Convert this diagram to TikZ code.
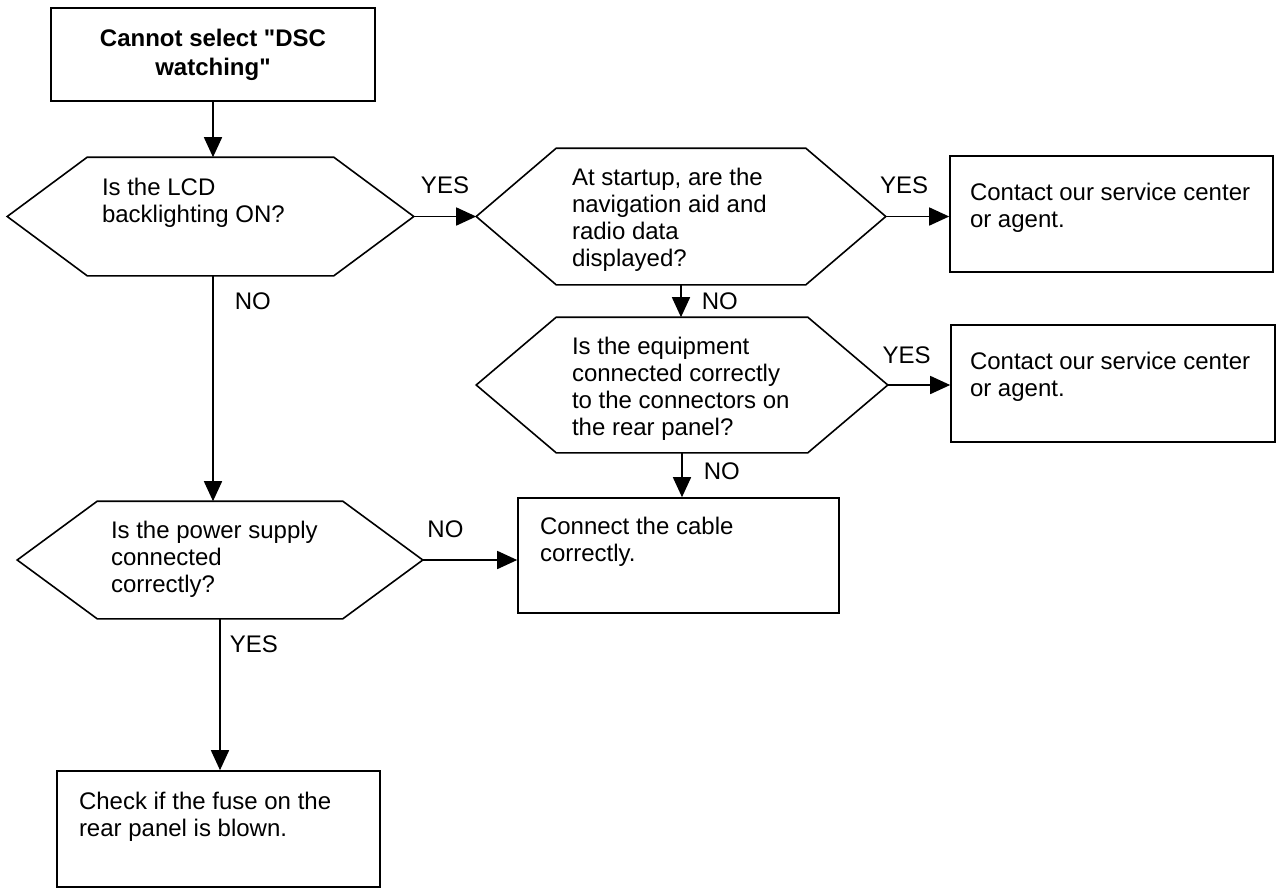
\documentclass[tikz,border=0pt]{standalone}
\usepackage{fontspec}
\setmainfont{Liberation Sans}
\usetikzlibrary{arrows.meta,positioning,calc}

\begin{document}
\begin{tikzpicture}[->, >={Triangle[length=10pt,width=9pt]}, thick, x=0.5pt, y=-0.5pt,
  font=\fontsize{12}{13.5}\selectfont]
\tikzstyle{action}=[draw=black, rectangle, inner sep=0pt]
\tikzstyle{query}=[rectangle, inner sep=0pt]
\tikzstyle{txt}=[anchor=north west, align=left, inner sep=0pt]
\tikzstyle{answer}=[inner sep=0pt]
\useasboundingbox (0,0) rectangle (1284,889);

\node[action, minimum width=162pt, minimum height=46.5pt, align=center,
  font=\bfseries\fontsize{12}{14.5}\selectfont] (start) at (213,54.5) {Cannot select \textquotedbl DSC\\watching\textquotedbl};
\node[query, minimum width=202.5pt, minimum height=58.5pt,
  label={[txt, xshift=47pt, yshift=-10pt]north west:{Is the LCD\\backlighting ON?}}] (lcd) at (210.5,216.5) {};
\node[query, minimum width=204pt, minimum height=67.5pt,
  label={[txt, xshift=47.5pt, yshift=-9.5pt]north west:{At startup, are the\\navigation aid and\\radio data\\displayed?}}] (nav) at (681,216.5) {};
\node[query, minimum width=205pt, minimum height=67pt,
  label={[txt, xshift=47.5pt, yshift=-9.5pt]north west:{Is the equipment\\connected correctly\\to the connectors on\\the rear panel?}}] (equip) at (682,385) {};
\node[query, minimum width=202pt, minimum height=58pt,
  label={[txt, xshift=46.5pt, yshift=-9.5pt]north west:{Is the power supply\\connected\\correctly?}}] (power) at (220,560) {};
\node[action, minimum width=161.5pt, minimum height=58pt,
  label={[txt, xshift=10pt, yshift=-13.5pt]north west:{Contact our service center\\or agent.}}] (svc1) at (1111.5,214) {};
\node[action, minimum width=162pt, minimum height=58.5pt,
  label={[txt, xshift=9.5pt, yshift=-13.5pt]north west:{Contact our service center\\or agent.}}] (svc2) at (1113,383.5) {};
\node[action, minimum width=160.5pt, minimum height=57.5pt,
  label={[txt, xshift=11pt, yshift=-9.5pt]north west:{Connect the cable\\correctly.}}] (cable) at (678.5,555.5) {};
\node[action, minimum width=161.5pt, minimum height=58pt,
  label={[txt, xshift=11pt, yshift=-10.5pt]north west:{Check if the fuse on the\\rear panel is blown.}}] (fuse) at (218.5,829) {};

% hexagon outlines of the questions
\foreach \q in {lcd,nav,equip,power}
  \draw[-] (\q.west) -- ([xshift=40pt]\q.north west) -- ([xshift=-40pt]\q.north east)
    -- (\q.east) -- ([xshift=-40pt]\q.south east) -- ([xshift=40pt]\q.south west) -- cycle;

\path
(start.south) edge (start.south |- lcd.north)
(lcd.east) edge node[answer, above=11pt] {YES} (nav.west)
(lcd.south -| start.south) edge node[answer, pos=0.115, right=10.5pt] {NO} (start.south |- power.north)
(nav.east) edge node[answer, pos=0.29, above=11pt] {YES} (nav.east -| svc1.west)
(nav.south) edge node[answer, midway, right=10pt] {NO} (nav.south |- equip.north)
(equip.east) edge node[answer, pos=0.3, above=10pt] {YES} (equip.east -| svc2.west)
(equip.south) edge node[answer, pos=0.41, right=10.5pt] {NO} (equip.south |- cable.north)
(power.east) edge node[answer, pos=0.24, above=10.5pt] {NO} (power.east -| cable.west)
(power.south) edge node[answer, pos=0.167, right=4.5pt] {YES} (power.south |- fuse.north);
\end{tikzpicture}
\end{document}
